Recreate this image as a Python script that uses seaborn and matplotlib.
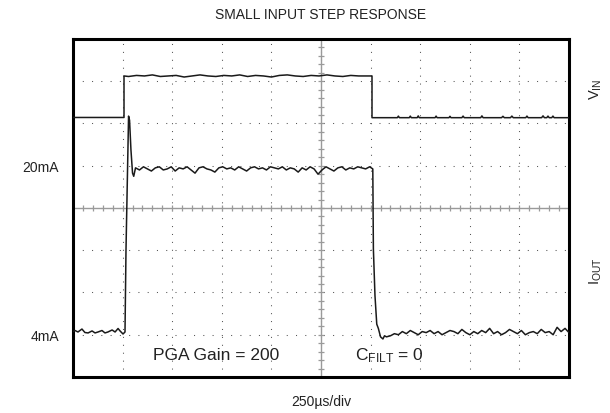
import numpy as np
import pandas as pd
import matplotlib
matplotlib.use("Agg")
import matplotlib.pyplot as plt
import seaborn as sns

# scope settings: 250us/div (10 div), 4mA/div (8 div)
x_div = [0, 250, 500, 750, 1000, 1250, 1500, 1750, 2000, 2250, 2500]
y_div = [0, 4, 8, 12, 16, 20, 24, 28, 32]
y_labels = ["", "4mA", "", "", "", "20mA", "", "", ""]

# V_IN trace (drawn on the same screen, offset to the top divisions)
vin_time = [0, 100, 200, 257, 257, 280, 320, 360, 400, 440, 480, 520, 560, 600,
            640, 680, 720, 760, 800, 840, 880, 920, 960, 1000, 1040, 1080, 1120,
            1160, 1200, 1240, 1280, 1320, 1360, 1400, 1440, 1480, 1507, 1507,
            1560, 1635, 1640, 1645, 1695, 1700, 1705, 1735, 1740, 1745, 1825,
            1830, 1835, 1895, 1900, 1905, 1960, 1966, 1972, 2055, 2061, 2067,
            2160, 2167, 2174, 2205, 2212, 2219, 2282, 2288, 2294, 2362, 2369,
            2376, 2388, 2394, 2400, 2413, 2419, 2425, 2500]
vin_level = [24.57, 24.57, 24.57, 24.57, 28.5, 28.45, 28.55, 28.5, 28.6, 28.45,
             28.5, 28.55, 28.4, 28.5, 28.6, 28.5, 28.45, 28.55, 28.5, 28.6, 28.45,
             28.55, 28.5, 28.4, 28.55, 28.6, 28.5, 28.45, 28.55, 28.5, 28.6, 28.5,
             28.45, 28.55, 28.5, 28.5, 28.5, 24.55, 24.55, 24.55, 24.7, 24.55,
             24.55, 24.7, 24.55, 24.55, 24.72, 24.55, 24.55, 24.7, 24.55, 24.55,
             24.68, 24.55, 24.55, 24.7, 24.55, 24.55, 24.72, 24.55, 24.55, 24.68,
             24.55, 24.55, 24.7, 24.55, 24.55, 24.7, 24.55, 24.55, 24.72, 24.55,
             24.55, 24.7, 24.55, 24.55, 24.7, 24.55, 24.55]

# I_OUT trace (mA)
iout_time = [0, 10, 25, 45, 60, 76, 96, 111, 126, 146, 161, 176, 197, 212, 227,
             237, 252, 262, 267, 272, 280, 285, 292, 300, 306,
             315, 335, 355, 375, 395, 415, 435, 455, 475, 495,
             515, 535, 555, 575, 595, 615, 635, 655, 675, 695,
             715, 735, 755, 775, 795, 815, 835, 855, 875, 895,
             915, 935, 955, 975, 995, 1015, 1035, 1055, 1075, 1095,
             1115, 1135, 1155, 1175, 1195, 1215, 1235, 1255, 1275, 1295,
             1315, 1335, 1355, 1375, 1395, 1415, 1435, 1455, 1475, 1495,
             1511, 1514, 1522, 1531, 1539, 1550, 1562, 1570,
             1580, 1600, 1620, 1640, 1660, 1680, 1700, 1720, 1740, 1760,
             1780, 1800, 1820, 1840, 1860, 1880, 1900, 1920, 1940, 1960,
             1980, 2000, 2020, 2040, 2060, 2080, 2100, 2120, 2140, 2160,
             2180, 2200, 2220, 2240, 2260, 2280, 2300, 2320, 2340, 2360,
             2380, 2400, 2420, 2440, 2460, 2480, 2500]
iout_ma = [4.29, 4.40, 4.26, 4.54, 4.21, 4.17, 4.36, 4.17, 4.26, 4.40, 4.17,
           4.26, 4.45, 4.26, 4.59, 4.36, 4.07, 4.26, 12.0, 17.0, 24.7, 24.3,
           21.5, 19.3, 19.0,
           19.8, 19.6, 19.9, 19.7, 19.5, 19.8, 19.9, 19.6, 19.7, 19.9,
           19.5, 19.8, 19.7, 19.9, 19.6, 19.3, 19.8, 19.9, 19.7, 19.6,
           19.4, 19.8, 19.9, 19.7, 19.8, 19.6, 19.9, 19.7, 19.5, 19.8,
           19.9, 19.7, 19.8, 19.6, 19.9, 19.8, 19.7, 19.9, 19.6, 19.8,
           19.7, 19.4, 19.8, 19.6, 19.9, 19.7, 19.2, 19.6, 19.9, 19.7,
           19.5, 19.8, 19.9, 19.6, 19.8, 19.7, 19.9, 19.8, 19.7, 19.9,
           19.7, 12.1, 7.7, 5.0, 4.6, 3.8, 3.6, 3.9,
           3.8, 3.9, 4.1, 4.0, 4.3, 4.1, 4.4, 4.2, 4.0, 4.3,
           4.2, 4.4, 4.1, 4.3, 4.0, 4.2, 4.4, 4.3, 4.1, 4.5,
           4.2, 4.0, 4.3, 4.1, 4.4, 4.2, 4.6, 4.1, 4.3, 4.0,
           4.2, 4.5, 4.3, 4.1, 4.4, 4.0, 4.2, 4.3, 4.1, 4.5,
           4.2, 4.3, 4.0, 4.7, 4.3, 4.6, 4.2]

sns.set_theme(style="white")
plt.rcParams["font.family"] = ["Liberation Sans", "DejaVu Sans"]
plt.rcParams["mathtext.fontset"] = "custom"
plt.rcParams["mathtext.rm"] = "Liberation Sans"
plt.rcParams["mathtext.it"] = "Liberation Sans"

fig = plt.figure(figsize=(6.1, 4.14), dpi=100)
ax = fig.add_axes([0.1197, 0.087, 0.8131, 0.8164])

# dotted graticule
ax.set_xticks(x_div)
ax.set_yticks(y_div)
ax.set_yticklabels(y_labels)
ax.set_xticklabels([])
ax.xaxis.grid(True, color="#555555", linestyle=(0, (1, 6.6)), linewidth=0.75)
ax.yaxis.grid(True, color="#555555", linestyle=(0, (1, 7.9)), linewidth=0.75)
ax.tick_params(axis="both", length=0)
ax.tick_params(axis="y", pad=10, labelsize=10, labelcolor="#222222")

# centre crosshair with minor tick marks
ax.axhline(16, color="#9a9a9a", lw=1.0, zorder=1)
ax.axvline(1250, color="#9a9a9a", lw=1.0, zorder=1)
ax.plot(np.arange(0, 2501, 50), np.full(51, 16), ls="none", marker="|",
        ms=5, color="#9a9a9a", mew=0.9, zorder=1)
ax.plot(np.full(41, 1250), np.arange(0, 32.01, 0.8), ls="none", marker="_",
        ms=5, color="#9a9a9a", mew=0.9, zorder=1)

vin = pd.DataFrame({"t": vin_time, "y": vin_level})
iout = pd.DataFrame({"t": iout_time, "y": iout_ma})
sns.lineplot(data=vin, x="t", y="y", sort=False, estimator=None, ax=ax,
             color="#1a1a1a", lw=1.1, zorder=3)
sns.lineplot(data=iout, x="t", y="y", sort=False, estimator=None, ax=ax,
             color="#1a1a1a", lw=1.1, zorder=3)

ax.set_xlim(0, 2500)
ax.set_ylim(0, 32)
ax.set_ylabel("")
ax.set_xlabel("250\u00b5s/div", fontsize=10, color="#222222", labelpad=9)
ax.set_title("SMALL INPUT STEP RESPONSE", fontsize=10, color="#222222", pad=15)
for s in ax.spines.values():
    s.set_visible(True)
    s.set_color("black")
    s.set_linewidth(2.2)

ax.text(721, 2.1, "PGA Gain = 200", fontsize=12.5, ha="center", va="center",
        color="#222222")
ax.text(1593, 2.1, r"C$_{\mathrm{FILT}}$ = 0", fontsize=12.5, ha="center",
        va="center", color="#222222")

fig.text(0.976, 0.785, r"V$_{\mathrm{IN}}$", rotation=90, fontsize=10.5,
         ha="center", va="center", color="#222222")
fig.text(0.976, 0.345, r"I$_{\mathrm{OUT}}$", rotation=90, fontsize=10.5,
         ha="center", va="center", color="#222222")

fig.savefig("out.png", dpi=100)
